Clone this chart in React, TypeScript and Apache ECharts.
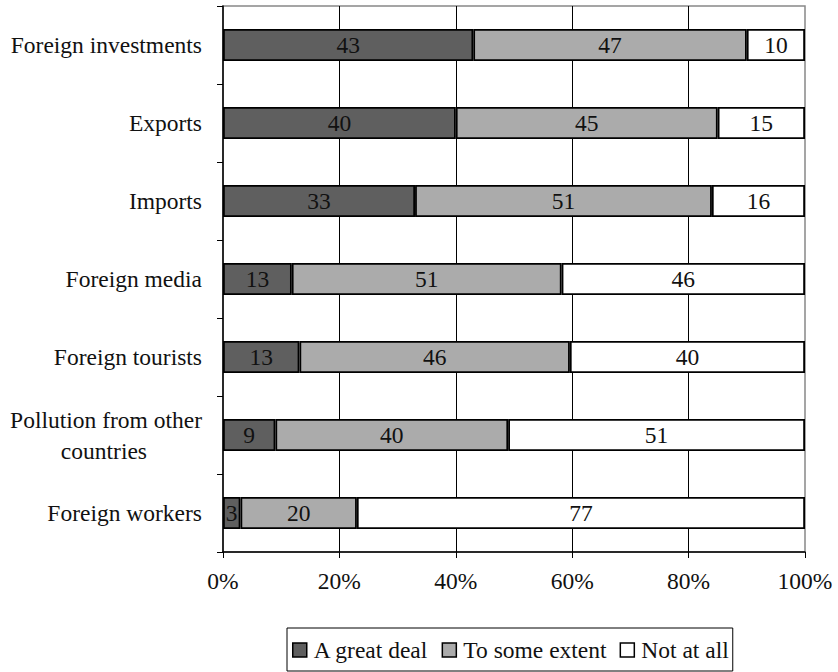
import React, { useEffect, useRef } from "react";
import * as echarts from "echarts";

const categories = [
  "Foreign investments",
  "Exports",
  "Imports",
  "Foreign media",
  "Foreign tourists",
  "Pollution from other\ncountries",
  "Foreign workers",
];
const greatDeal = [43, 40, 33, 13, 13, 9, 3];
const someExtent = [47, 45, 51, 51, 46, 40, 20];
const notAtAll = [10, 15, 16, 46, 40, 51, 77];
const seriesNames = ["A great deal", "To some extent", "Not at all"];
const seriesColors = ["#5f5f5f", "#ababab", "#ffffff"];
const xTicks = [0, 20, 40, 60, 80, 100];

const FONT = '"Liberation Serif", "Times New Roman", serif';
const FS = 23.5;

export default function App() {
  const ref = useRef<HTMLDivElement>(null);
  useEffect(() => {
    document.body.style.margin = "0";
    if (!ref.current) return;
    const chart = echarts.init(ref.current, null, { renderer: "svg" });
    const raw = [greatDeal, someExtent, notAtAll];
    const totals = categories.map((_, i) => raw.reduce((s, arr) => s + arr[i], 0));
    const series = raw.map((arr, si) => ({
      name: seriesNames[si],
      type: "bar",
      stack: "total",
      barWidth: 32,
      data: arr.map((v, i) => (v / totals[i]) * 100),
      itemStyle: {
        color: seriesColors[si],
        borderColor: "#000",
        borderWidth: 1.8,
      },
      label: {
        show: true,
        position: "inside",
        fontFamily: FONT,
        fontSize: FS,
        color: "#111",
        formatter: (p: any) => String(arr[p.dataIndex]),
      },
    }));
    chart.setOption({
      animation: false,
      backgroundColor: "#fff",
      textStyle: { fontFamily: FONT },
      grid: {
        left: 223,
        right: 33,
        top: 6,
        bottom: 120,
        containLabel: false,
        show: true,
        borderColor: "#888",
        borderWidth: 1.5,
        backgroundColor: "transparent",
      },
      xAxis: {
        type: "value",
        min: xTicks[0],
        max: xTicks[xTicks.length - 1],
        interval: 20,
        axisLine: { show: true, lineStyle: { color: "#000", width: 1.5 } },
        axisTick: { show: true, length: 6, lineStyle: { color: "#000" } },
        axisLabel: {
          formatter: "{value}%",
          fontFamily: FONT,
          fontSize: FS,
          color: "#111",
          margin: 17,
        },
        splitLine: {
          show: true,
          showMinLine: false,
          showMaxLine: false,
          lineStyle: { color: "#000", width: 1 },
        },
      },
      yAxis: {
        type: "category",
        inverse: true,
        data: categories,
        axisLine: { show: true, lineStyle: { color: "#000", width: 1.5 } },
        axisTick: { show: true, length: 6, lineStyle: { color: "#000" } },
        axisLabel: {
          margin: 21,
          fontFamily: FONT,
          fontSize: FS,
          color: "#111",
          lineHeight: 31,
          formatter: (v: string) => {
            if (v.indexOf("\n") >= 0) {
              const [a, b] = v.split("\n");
              return "{a|" + a + "}\n{b|" + b + "}";
            }
            return v;
          },
          rich: {
            a: { fontFamily: FONT, fontSize: FS, color: "#111", lineHeight: 31 },
            b: {
              fontFamily: FONT,
              fontSize: FS,
              color: "#111",
              lineHeight: 31,
              padding: [0, 55, 0, 0],
            },
          },
        },
        splitLine: { show: false },
      },
      legend: {
        show: true,
        left: 287,
        top: 628,
        orient: "horizontal",
        icon: "rect",
        itemWidth: 14,
        itemHeight: 14,
        itemGap: 13,
        padding: [10, 4, 9, 5],
        borderColor: "#000",
        borderWidth: 1,
        itemStyle: { borderColor: "#000", borderWidth: 1.5 },
        textStyle: { fontFamily: FONT, fontSize: FS, color: "#111", padding: [0, 0, 0, 2] },
        data: seriesNames,
      },
      series,
    });
    return () => chart.dispose();
  }, []);
  return <div ref={ref} style={{ width: 838, height: 672 }} />;
}
